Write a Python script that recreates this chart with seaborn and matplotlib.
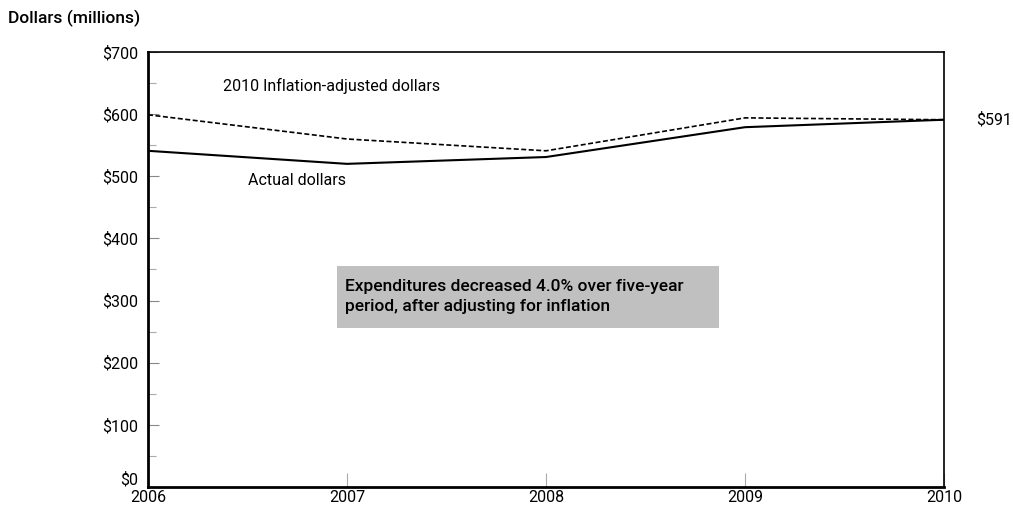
import numpy as np
import pandas as pd
import matplotlib
matplotlib.use("Agg")
import matplotlib.pyplot as plt
import seaborn as sns

years = [2006, 2007, 2008, 2009, 2010]
actual = [541, 520, 531, 579, 591]
adjusted = [599, 560, 541, 594, 591]
y_ticks = [0, 100, 200, 300, 400, 500, 600, 700]
y_labels = ["$0", "$100", "$200", "$300", "$400", "$500", "$600", "$700"]

sns.set_style("white")
plt.rcParams["font.family"] = ["Roboto", "DejaVu Sans"]
plt.rcParams["text.color"] = "black"
plt.rcParams["xtick.labelcolor"] = "black"
plt.rcParams["ytick.labelcolor"] = "black"

df = pd.DataFrame({"year": years, "actual": actual, "adjusted": adjusted})

fig = plt.figure(figsize=(10.13, 5.11), dpi=100)
ax = fig.add_axes([148 / 1013, 1 - 487 / 511, (944 - 148) / 1013, (487 - 52) / 511])

sns.lineplot(data=df, x="year", y="adjusted", ax=ax, color="black", lw=1.2, linestyle=(0, (3, 1.5)))
sns.lineplot(data=df, x="year", y="actual", ax=ax, color="black", lw=1.5)

fs = 11.5
ax.set_xlim(2006, 2010)
ax.set_ylim(0, 700)
ax.set_xticks(years)
ax.set_xticklabels([str(y) for y in years], fontsize=fs)
ax.set_yticks(y_ticks)
ax.set_yticklabels(y_labels, fontsize=fs)
ax.get_yticklabels()[0].set_verticalalignment("bottom")
ax.set_yticks(np.arange(50, 700, 100), minor=True)
ax.tick_params(axis="y", which="major", direction="in", length=8, width=0.8, color="#888888", pad=7, left=True)
ax.tick_params(axis="y", which="minor", direction="in", length=6, width=0.8, color="#aaaaaa", left=True)
ax.tick_params(axis="x", which="major", direction="in", length=10, width=0.8, color="#aaaaaa", pad=2, bottom=True)
ax.set_xlabel("")
ax.set_ylabel("")

for side in ["left", "bottom"]:
    ax.spines[side].set_linewidth(2)
    ax.spines[side].set_color("black")
for side in ["top", "right"]:
    ax.spines[side].set_linewidth(1.2)
    ax.spines[side].set_color("black")

fig.text(8 / 1013, 1 - 18 / 511, "Dollars (millions)", fontsize=12.5, fontweight="medium", va="center", ha="left")
ax.text(2010.16, 591, "$591", fontsize=fs, va="center", ha="left", clip_on=False)
ax.text(2006.92, 645, "2010 Inflation-adjusted dollars", fontsize=fs, va="center", ha="center")
ax.text(2006.75, 493, "Actual dollars", fontsize=fs, va="center", ha="center")

ax.add_patch(plt.Rectangle((2006.95, 256), 1.92, 100, facecolor="#c0c0c0", edgecolor="none", zorder=1))
ax.text(2006.99, 306, "Expenditures decreased 4.0% over five-year\nperiod, after adjusting for inflation",
        fontsize=12.5, fontweight="medium", va="center", ha="left", linespacing=1.4, zorder=2)

fig.savefig("out.png", dpi=100)
